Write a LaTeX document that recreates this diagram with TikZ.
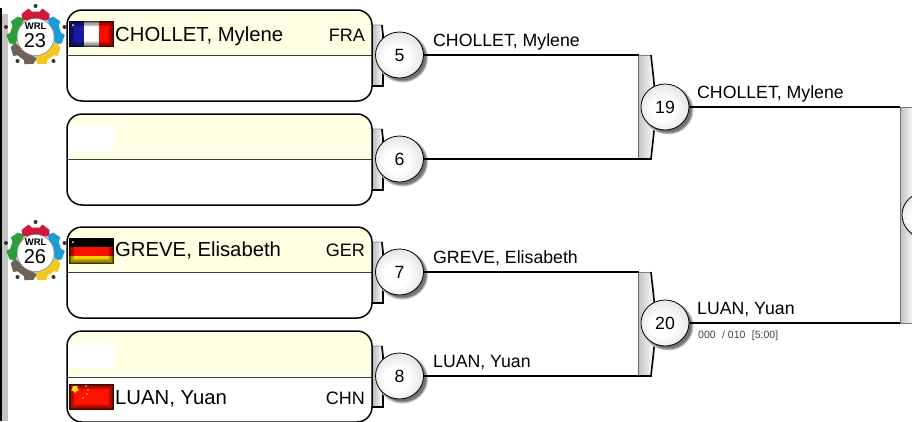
\documentclass[tikz,border=0pt]{standalone}
\usepackage{fontspec}
\setmainfont{Liberation Sans}
\usetikzlibrary{calc,shapes.geometric}
\definecolor{cream}{HTML}{FFFFE3}
\definecolor{barg}{HTML}{C4C4C4}
\definecolor{wrlred}{HTML}{D0183C}
\definecolor{wrlblue}{HTML}{1E9AD6}
\definecolor{wrlyellow}{HTML}{F2C81E}
\definecolor{wrlbrown}{HTML}{6E6258}
\definecolor{wrlgreen}{HTML}{2E9E3C}
\pgfdeclareradialshading{ballsh}{\pgfpoint{-4bp}{-4bp}}{color(0bp)=(white);color(12bp)=(white);color(30bp)=(black!12);color(50bp)=(black!38)}
\tikzset{
  x=1pt,y=-1pt,
  wire/.style={line width=1.6pt,black},
  boxframe/.style={draw=black,line width=1.5pt,rounded corners=15pt},
  player/.style={font=\fontsize{20.3}{22}\selectfont,inner sep=0pt,anchor=base west},
  nation/.style={font=\fontsize{18}{20}\selectfont,inner sep=0pt,anchor=base east},
  advance/.style={font=\fontsize{17.7}{20}\selectfont,inner sep=0pt,anchor=base west},
  score/.style={font=\fontsize{10.5}{12}\selectfont,inner sep=0pt,anchor=base west,text=black!75},
  ballnode/.style={ellipse,minimum width=48pt,minimum height=46pt,inner sep=0pt,draw=black,line width=.8pt,shading=ballsh,font=\fontsize{17.7}{20}\selectfont},
}
\newcommand{\matchbox}[2]{% top, divider
  \begin{scope}
    \clip (0,0) rectangle (912,421);
    \fill[white,rounded corners=15pt] (67,#1) rectangle (372,#1+91);
    \begin{scope}
      \clip (60,#1-2) rectangle (380,#2);
      \fill[cream,rounded corners=15pt] (67,#1) rectangle (372,#1+91);
    \end{scope}
    \draw[black!75!cream,line width=.9pt] (67,#2) -- (372,#2);
    \draw[boxframe] (67,#1) rectangle (372,#1+91);
  \end{scope}
}
\newcommand{\tabbracket}[1]{% centre y
  \shade[left color=black!28,right color=white,draw=black!50,line width=.6pt] (372,#1-30) -- (381,#1-30) -- (383,#1-20) -- (383,#1+31) -- (372,#1+31) -- cycle;
  \draw[line width=1.6pt] (382,#1-30) -- (383,#1-20) -- (383,#1+31) -- (372,#1+31);
}
\newcommand{\ballshadow}[2]{% x, y
  \fill[black!22] (#1+3,#2+3) ellipse[x radius=25.5,y radius=24.5];
  \fill[black!40] (#1+3,#2+3) ellipse[x radius=24.5,y radius=23.5];
  \fill[black!55] (#1+3,#2+3) ellipse[x radius=23.5,y radius=22.5];
}
\newcommand{\widebracket}[2]{% top, bottom
  \shade[left color=black!24,right color=white] (638,#1) -- (651,#1) .. controls (653,#1+20) and (655,#1+30) .. (655,#1+52) .. controls (655,#2-30) and (653,#2-20) .. (651,#2) -- (638,#2) -- cycle;
  \draw[black!60,line width=.8pt] (638,#1) -- (638,#2);
  \draw[black!50,line width=.6pt] (638,#1) -- (651,#1);
  \draw[line width=1.6pt] (651,#1) .. controls (653,#1+20) and (655,#1+30) .. (655,#1+52) .. controls (655,#2-30) and (653,#2-20) .. (651,#2) -- (638,#2);
}
\newcommand{\wrl}[2]{% y offset, number
  \begin{scope}[yshift=-#1pt]
    \foreach \px/\py in {35.6/6,6/27,64.5/27,17.5/61,53.5/61} \fill[black!80] (\px,\py) circle[radius=2];
    \fill[gray!45] (35.6,37) circle[radius=21];
    \foreach \col/\ang in {wrlred/0,wrlblue/-72,wrlyellow/-144,wrlbrown/-216,wrlgreen/-288}
      \fill[\col,shift={(35.6,37)},rotate=\ang] (-13.5,-17) -- (-14,-23) -- (-7,-28.5) -- (-4,-25.5) -- (4,-25.5) -- (7,-28.5) -- (14,-23) -- (13.5,-17) -- cycle;
    \fill[white,draw=black!45,line width=.6pt] (35.6,37) circle[radius=18.5];
    \node[inner sep=0pt,font=\bfseries\fontsize{9.5}{10}\selectfont] (wrl#2) at (35.6,26.5) {WRL};
    \node[inner sep=0pt,font=\fontsize{20}{20}\selectfont] (num#2) at (35,41) {#2};
  \end{scope}
}
\newcommand{\vignette}[4]{% x y w h
  \foreach \i/\o in {0.6/.75,1.8/.55,3/.35,4.2/.2,5.4/.08}
    \draw[black,opacity=\o,line width=1.2pt] (#1+\i,#2+\i) rectangle (#1+#3-\i,#2+#4-\i);
}
\begin{document}
\begin{tikzpicture}
\useasboundingbox (0,0) rectangle (912,421);
\fill[white] (0,0) rectangle (912,421);
\fill[barg] (2,14) rectangle (7.5,421);
\fill[black] (0,8) rectangle (2,421);
% tabs and boxes
\tabbracket{55}
\tabbracket{159}
\tabbracket{272}
\tabbracket{376}
\matchbox{10}{55}
\matchbox{114}{159}
\matchbox{227}{272}
\matchbox{331}{377}
% blank flags
\fill[white] (69,126) rectangle (114,152);
\fill[white] (69,343) rectangle (114,368);
% France
\fill[blue!60!black!90!white] (69,21) rectangle (84,47);
\fill[white] (84,21) rectangle (99,47);
\fill[red!92!orange] (99,21) rectangle (114,47);
\vignette{69}{21}{45}{26}
\fill[white] (73,25) circle[radius=1];
% Germany
\fill[black] (69,238) rectangle (114,247);
\fill[red!88!orange] (69,247) rectangle (114,255.5);
\fill[yellow!75!orange] (69,255.5) rectangle (114,264);
\vignette{69}{238}{45}{26}
\fill[white] (73,242) circle[radius=1];
% China
\fill[red!85!orange] (69,384) rectangle (114,410);
\vignette{69}{384}{45}{26}
\node[star,star points=5,fill=yellow!90!orange,minimum size=8pt,inner sep=0pt,rotate=180] (bigstar) at (75,389) {};
\foreach \sx/\sy in {86/386,88/390,87/394,83/398} \fill[yellow!80!orange] (\sx,\sy) circle[radius=.8];
% players
\node[player] (p1) at (115,41) {CHOLLET, Mylene};
\node[nation] (c1) at (365,41) {FRA};
\node[player] (p2) at (115,256) {GREVE, Elisabeth};
\node[nation] (c2) at (365,256) {GER};
\node[player] (p3) at (115,404) {LUAN, Yuan};
\node[nation] (c3) at (365,404) {CHN};
% logos
\wrl{0}{23}
\wrl{216}{26}
% junctions
\coordinate (j5) at (639,55);
\coordinate (j6) at (639,159);
\coordinate (j7) at (639,272);
\coordinate (j8) at (639,376);
\coordinate (r19) at (900,107);
\coordinate (r20) at (900,323);
\shade[left color=black!25,right color=white,draw=black!55,line width=1pt] (900,107) rectangle (914,323);
\widebracket{55}{159}
\widebracket{272}{376}
\ballshadow{399.5}{55}
\ballshadow{399.5}{159}
\ballshadow{399.5}{272}
\ballshadow{399.5}{376}
\ballshadow{665}{107}
\ballshadow{665}{323}
\ballshadow{926}{215}
\node[ballnode] (m5) at (399.5,55) {5};
\node[ballnode] (m6) at (399.5,159) {6};
\node[ballnode] (m7) at (399.5,272) {7};
\node[ballnode] (m8) at (399.5,376) {8};
\node[ballnode] (m19) at (665,107) {19};
\node[ballnode] (m20) at (665,323) {20};
\node[ballnode] (m27) at (926,215) {};
\draw[wire] (m5.east) -- (j5);
\draw[wire] (m6.east) -- (j6);
\draw[wire] (m7.east) -- (j7);
\draw[wire] (m8.east) -- (j8);
\draw[wire] (m19.east) -- (r19);
\draw[wire] (m20.east) -- (r20);
% labels
\node[advance] (a5) at (433,46) {CHOLLET, Mylene};
\node[advance] (a7) at (433,263) {GREVE, Elisabeth};
\node[advance] (a8) at (433,367) {LUAN, Yuan};
\node[advance] (a19) at (697,98) {CHOLLET, Mylene};
\node[advance] (a20) at (697,314) {LUAN, Yuan};
\node[score] (s20) at (698,338) {000\,\, / 010\,\, [5:00]};
\end{tikzpicture}
\end{document}
